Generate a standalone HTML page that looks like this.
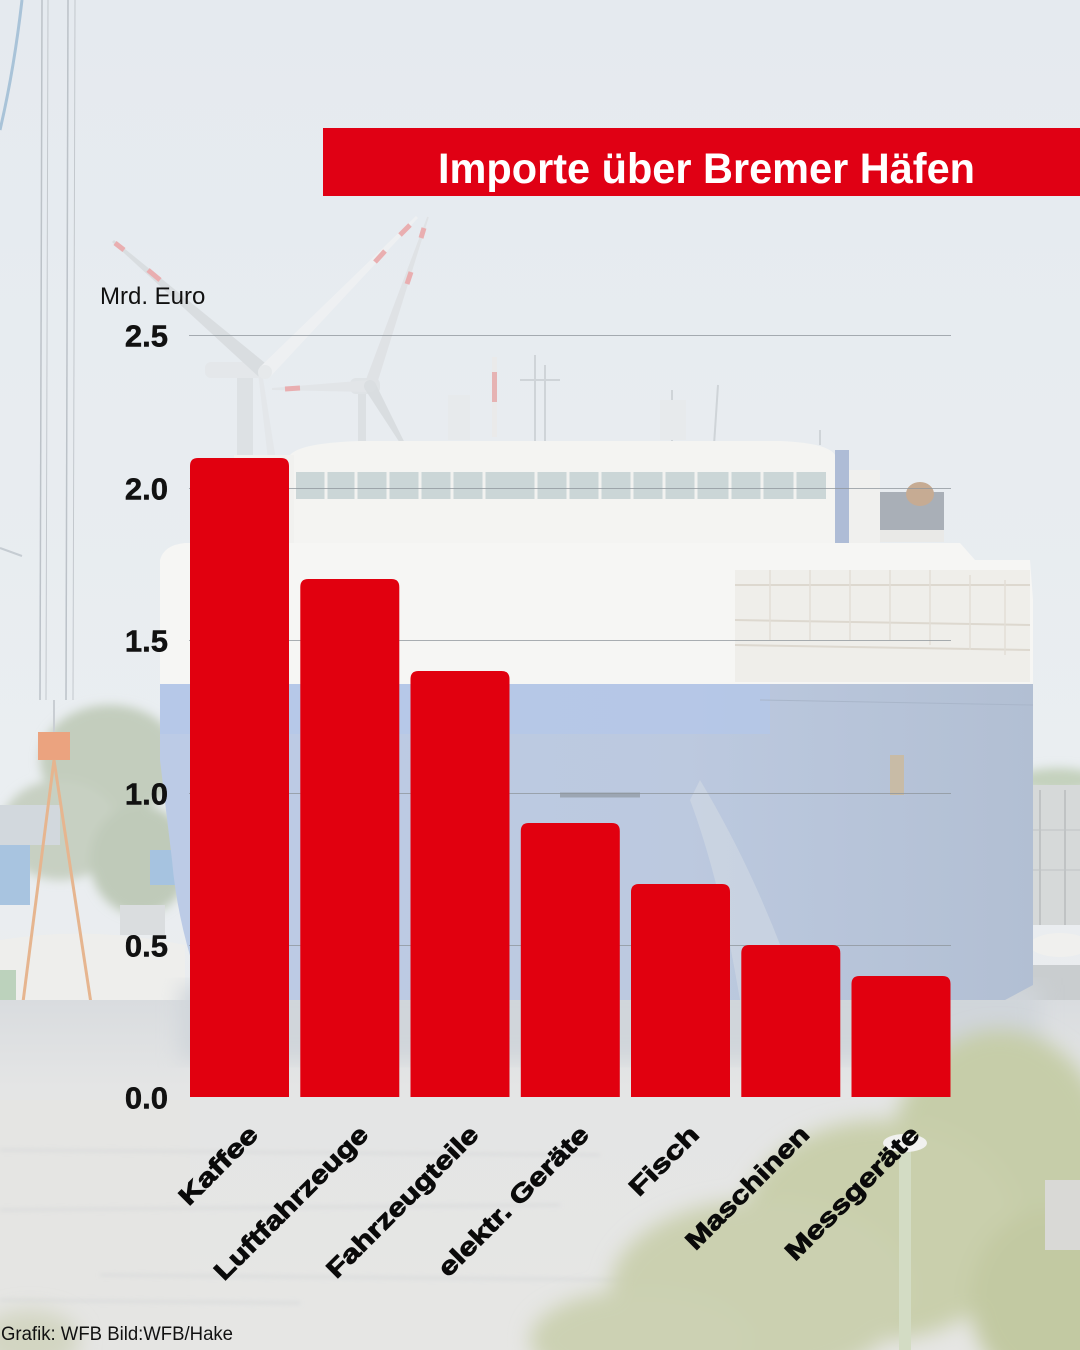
<!DOCTYPE html>
<html><head><meta charset="utf-8">
<style>
html,body{margin:0;padding:0;width:1080px;height:1350px;overflow:hidden;background:#e8ecf0;}
svg{display:block;}
</style></head>
<body>
<svg width="1080" height="1350" viewBox="0 0 1080 1350" xmlns="http://www.w3.org/2000/svg">
<defs>
  <linearGradient id="sky" x1="0" y1="0" x2="0" y2="1">
    <stop offset="0" stop-color="#e5eaef"/>
    <stop offset="0.6" stop-color="#eaeef1"/>
    <stop offset="1" stop-color="#e8e9ea"/>
  </linearGradient>
  <linearGradient id="hullH" x1="0" y1="0" x2="1" y2="0">
    <stop offset="0" stop-color="#bccbe6"/>
    <stop offset="0.6" stop-color="#bcc9df"/>
    <stop offset="1" stop-color="#b2bfd3"/>
  </linearGradient>
  <linearGradient id="water" x1="0" y1="0" x2="0" y2="1">
    <stop offset="0" stop-color="#d9dcdf"/>
    <stop offset="0.25" stop-color="#e4e5e5"/>
    <stop offset="1" stop-color="#e6e6e4"/>
  </linearGradient>
  <filter id="b2"><feGaussianBlur stdDeviation="2"/></filter>
  <filter id="b5"><feGaussianBlur stdDeviation="5"/></filter>
  <filter id="b10"><feGaussianBlur stdDeviation="10"/></filter>
</defs>

<!-- sky -->
<rect x="0" y="0" width="1080" height="1350" fill="url(#sky)"/>

<!-- left crane lattice & cables -->
<path d="M0,130 Q14,70 22,0" stroke="#a9c3d8" stroke-width="3" fill="none"/>
<line x1="42" y1="0" x2="40" y2="700" stroke="#bcc2c8" stroke-width="1.5"/>
<line x1="48" y1="0" x2="46" y2="700" stroke="#c3c8cd" stroke-width="1"/>
<line x1="68" y1="0" x2="66" y2="700" stroke="#bcc2c8" stroke-width="1.5"/>
<line x1="75" y1="0" x2="73" y2="700" stroke="#c3c8cd" stroke-width="1"/>
<line x1="0" y1="548" x2="22" y2="556" stroke="#c5ccd2" stroke-width="2"/>

<!-- left background: trees, buildings -->
<g filter="url(#b5)">
  <ellipse cx="110" cy="760" rx="70" ry="55" fill="#c3cdbd"/>
  <ellipse cx="60" cy="830" rx="60" ry="50" fill="#c7d0c2"/>
  <ellipse cx="140" cy="860" rx="50" ry="55" fill="#bfcab9"/>
  <ellipse cx="1058" cy="780" rx="40" ry="12" fill="#c4d1bd"/>
</g>
<rect x="0" y="805" width="60" height="40" fill="#d2d8dd"/>
<rect x="0" y="845" width="30" height="60" fill="#a8c4e0"/>
<rect x="150" y="850" width="35" height="35" fill="#a6c3e0"/>
<rect x="120" y="905" width="45" height="30" fill="#dadddf"/>
<path d="M0,940 Q90,925 185,945 L185,1005 L0,1005 Z" fill="#eeeeec"/>
<rect x="0" y="970" width="16" height="45" fill="#bcd2bc"/>
<!-- orange crane -->
<rect x="38" y="732" width="32" height="28" fill="#eba37f"/>
<line x1="54" y1="760" x2="22" y2="1010" stroke="#e6b58f" stroke-width="3"/>
<line x1="54" y1="760" x2="92" y2="1010" stroke="#e6b58f" stroke-width="3"/>
<line x1="54" y1="700" x2="54" y2="732" stroke="#c9ced3" stroke-width="2"/>
<!-- barge & quay -->
<rect x="0" y="1008" width="186" height="22" fill="#cdb3ac"/>
<polygon points="0,1040 140,1018 140,1080 0,1112" fill="#bfc4c7"/>
<polygon points="140,1018 186,1015 186,1060 140,1080" fill="#cdd1d3"/>

<!-- right background -->
<rect x="1033" y="785" width="47" height="140" fill="#d6d9d9"/>
<line x1="1040" y1="790" x2="1040" y2="925" stroke="#b8bcbe" stroke-width="1.5"/>
<line x1="1065" y1="790" x2="1065" y2="925" stroke="#b8bcbe" stroke-width="1.5"/>
<line x1="1033" y1="830" x2="1080" y2="830" stroke="#c0c4c5"/>
<line x1="1033" y1="870" x2="1080" y2="870" stroke="#c0c4c5"/>
<ellipse cx="1060" cy="945" rx="30" ry="12" fill="#f0f0ee"/>
<rect x="1005" y="965" width="75" height="35" fill="#c9cdcf"/>

<!-- water -->
<rect x="0" y="1000" width="1080" height="350" fill="url(#water)"/>
<rect x="0" y="1100" width="190" height="250" fill="#e5e5e3"/>
<g stroke="#d6d8d9" stroke-width="2" filter="url(#b2)">
  <line x1="0" y1="1150" x2="600" y2="1155"/>
  <line x1="0" y1="1210" x2="560" y2="1205"/>
  <line x1="100" y1="1275" x2="640" y2="1280"/>
  <line x1="0" y1="1300" x2="300" y2="1303"/>
</g>
<rect x="180" y="985" width="860" height="75" fill="#d0d5da" filter="url(#b10)"/>

<!-- wind turbines -->
<g>
  <rect x="237" y="372" width="16" height="90" fill="#dde1e4"/>
  <rect x="358" y="386" width="8" height="76" fill="#dce0e3"/>
  <rect x="205" y="362" width="58" height="16" rx="6" fill="#e4e7ea"/>
  <rect x="350" y="378" width="30" height="16" rx="6" fill="#dfe3e6"/>
  <polygon points="270,367 114,240 112,242 260,378" fill="#d9dde0"/>
  <polygon points="270,377 418,218 416,216 260,367" fill="#eef0f2"/>
  <polygon points="262,372 276,460 268,460 258,372" fill="#e4e7ea"/>
  <polygon points="375.7,388 428.8,217.3 427.2,216.7 364.3,384" fill="#dfe2e5"/>
  <polygon points="370,380 272,388 272,390 370,392" fill="#e2e5e8"/>
  <polygon points="375.2,383 412,457.5 410,458.5 364.8,389" fill="#d9dde0"/>
  <g stroke="#e9aeb0" stroke-width="5" stroke-linecap="butt">
    <line x1="115" y1="243" x2="124" y2="250"/>
    <line x1="148" y1="270" x2="160" y2="280"/>
    <line x1="400" y1="235" x2="410" y2="225"/>
    <line x1="375" y1="262" x2="385" y2="251"/>
    <line x1="424" y1="228" x2="421" y2="238"/>
    <line x1="411" y1="272" x2="407" y2="284"/>
    <line x1="285" y1="389" x2="300" y2="388"/>
  </g>
  <circle cx="265" cy="372" r="7" fill="#e6e9eb"/>
  <circle cx="370" cy="386" r="6" fill="#dadee1"/>
</g>

<!-- ship masts / antennas -->
<g stroke="#cfd4d8" stroke-width="2" fill="none">
  <line x1="535" y1="355" x2="535" y2="445"/>
  <line x1="520" y1="380" x2="560" y2="380"/>
  <line x1="545" y1="365" x2="545" y2="445"/>
  <line x1="672" y1="390" x2="672" y2="445"/>
  <line x1="718" y1="385" x2="714" y2="445"/>
  <line x1="820" y1="430" x2="820" y2="445"/>
</g>
<rect x="492" y="357" width="5" height="80" fill="#eaeaea"/>
<rect x="492" y="372" width="5" height="30" fill="#e6b3b3"/>
<rect x="448" y="395" width="22" height="45" fill="#e7eaec"/>
<rect x="660" y="400" width="26" height="40" fill="#e7eaec"/>

<!-- ship superstructure -->
<path d="M290,545 L290,455 Q300,443 360,441 L780,441 Q828,443 835,455 L835,545 Z" fill="#f4f4f2"/>
<rect x="296" y="472" width="530" height="27" fill="#cbd6d7"/>
<g stroke="#f2f2f0" stroke-width="3">
  <line x1="326" y1="472" x2="326" y2="499"/><line x1="356" y1="472" x2="356" y2="499"/>
  <line x1="388" y1="472" x2="388" y2="499"/><line x1="420" y1="472" x2="420" y2="499"/>
  <line x1="452" y1="472" x2="452" y2="499"/><line x1="484" y1="472" x2="484" y2="499"/>
  <line x1="536" y1="472" x2="536" y2="499"/><line x1="568" y1="472" x2="568" y2="499"/>
  <line x1="600" y1="472" x2="600" y2="499"/><line x1="632" y1="472" x2="632" y2="499"/>
  <line x1="664" y1="472" x2="664" y2="499"/><line x1="696" y1="472" x2="696" y2="499"/>
  <line x1="730" y1="472" x2="730" y2="499"/><line x1="762" y1="472" x2="762" y2="499"/>
  <line x1="795" y1="472" x2="795" y2="499"/>
</g>
<rect x="234" y="455" width="60" height="95" fill="#f1f1ef"/>
<rect x="835" y="450" width="14" height="95" fill="#aebcd6"/>
<rect x="849" y="470" width="31" height="75" fill="#f0f0ee"/>
<!-- funnel -->
<rect x="880" y="492" width="64" height="50" fill="#a9afb7"/>
<ellipse cx="920" cy="494" rx="14" ry="12" fill="#c6ab93"/>
<rect x="880" y="530" width="64" height="12" fill="#e9e9e7"/>

<!-- ship white upper hull -->
<path d="M160,685 L160,560 Q164,545 185,543 L960,543 L975,560 L1030,560 L1033,600 L1033,685 Z" fill="#f6f6f4"/>
<rect x="735" y="570" width="295" height="112" fill="#efeeea"/>
<g stroke="#ddd8cf" stroke-width="2">
  <line x1="735" y1="585" x2="1030" y2="585"/>
  <line x1="735" y1="620" x2="1030" y2="625"/>
  <line x1="735" y1="645" x2="1030" y2="650"/>
</g>
<g stroke="#e2ded6" stroke-width="1.5">
  <line x1="770" y1="570" x2="770" y2="640"/><line x1="810" y1="570" x2="810" y2="640"/>
  <line x1="850" y1="570" x2="850" y2="640"/><line x1="890" y1="570" x2="890" y2="640"/>
  <line x1="930" y1="570" x2="930" y2="645"/><line x1="970" y1="575" x2="970" y2="650"/>
  <line x1="1005" y1="580" x2="1005" y2="655"/>
</g>

<!-- blue hull -->
<path d="M160,684 L1033,684 L1033,985 L1005,1000 L205,1000 Q178,930 172,860 L160,760 Z" fill="url(#hullH)"/>
<rect x="160" y="684" width="610" height="50" fill="#b4c7e8" opacity="0.8"/>
<path d="M700,780 Q760,880 800,1000 L740,1000 Q720,880 690,800 Z" fill="#cfd7e3" opacity="0.7"/>
<rect x="890" y="755" width="14" height="40" fill="#c8bba6"/>
<line x1="760" y1="700" x2="1033" y2="705" stroke="#a9b6ca" stroke-width="1"/>
<line x1="560" y1="795" x2="640" y2="795" stroke="#9ca6b3" stroke-width="5"/>

<!-- bottom-right trees -->
<g filter="url(#b10)">
  <ellipse cx="1000" cy="1160" rx="110" ry="130" fill="#c6cda9"/>
  <ellipse cx="880" cy="1230" rx="140" ry="110" fill="#c9cfac"/>
  <ellipse cx="760" cy="1290" rx="150" ry="90" fill="#cbd0b0"/>
  <ellipse cx="640" cy="1340" rx="110" ry="50" fill="#ccd1b3"/>
  <ellipse cx="1050" cy="1300" rx="80" ry="90" fill="#c2c9a2"/>
  <ellipse cx="30" cy="1340" rx="50" ry="30" fill="#d3d6c2"/>
</g>
<rect x="1045" y="1180" width="35" height="70" fill="#d9d9d6"/>
<rect x="899" y="1150" width="12" height="200" fill="#d3dcc4"/>
<ellipse cx="905" cy="1143" rx="22" ry="9" fill="#f1f1ef"/>

<!-- gridlines -->
<g stroke="#8e959b" stroke-width="1" opacity="0.75">
  <line x1="189" y1="335.5" x2="951" y2="335.5"/>
  <line x1="189" y1="488.5" x2="951" y2="488.5"/>
  <line x1="189" y1="640.5" x2="951" y2="640.5"/>
  <line x1="189" y1="793.5" x2="951" y2="793.5"/>
  <line x1="189" y1="945.5" x2="951" y2="945.5"/>
</g>

<!-- bars -->
<g fill="#e1000f">
  <path d="M190,1097 V466 Q190,458 198,458 H281 Q289,458 289,466 V1097 Z"/>
  <path d="M300.3,1097 V587 Q300.3,579 308.3,579 H391.3 Q399.3,579 399.3,587 V1097 Z"/>
  <path d="M410.5,1097 V679 Q410.5,671 418.5,671 H501.5 Q509.5,671 509.5,679 V1097 Z"/>
  <path d="M520.8,1097 V831 Q520.8,823 528.8,823 H611.8 Q619.8,823 619.8,831 V1097 Z"/>
  <path d="M631,1097 V892 Q631,884 639,884 H722 Q730,884 730,892 V1097 Z"/>
  <path d="M741.3,1097 V953 Q741.3,945 749.3,945 H832.3 Q840.3,945 840.3,953 V1097 Z"/>
  <path d="M851.5,1097 V984 Q851.5,976 859.5,976 H942.5 Q950.5,976 950.5,984 V1097 Z"/>
</g>

<!-- title -->
<rect x="323" y="128" width="757" height="68" fill="#e00014"/>
<text x="438" y="183" font-family="Liberation Sans, sans-serif" font-weight="bold" font-size="43" fill="#ffffff" textLength="537" lengthAdjust="spacingAndGlyphs">Importe über Bremer Häfen</text>

<!-- axis unit -->
<text x="100" y="304" font-family="Liberation Sans, sans-serif" font-size="24" fill="#111">Mrd. Euro</text>

<!-- tick labels -->
<g font-family="Liberation Sans, sans-serif" font-weight="bold" font-size="31" fill="#111" stroke="#111" stroke-width="0.5" text-anchor="end">
  <text x="168" y="346.5">2.5</text>
  <text x="168" y="499.5">2.0</text>
  <text x="168" y="651.5">1.5</text>
  <text x="168" y="804.5">1.0</text>
  <text x="168" y="956.5">0.5</text>
  <text x="168" y="1108.5">0.0</text>
</g>

<!-- category labels -->
<g font-family="Liberation Sans, sans-serif" font-weight="bold" font-size="25" fill="#0a0a0a" stroke="#0a0a0a" stroke-width="0.9" text-anchor="end">
  <text transform="translate(259.5,1136) rotate(-45)" textLength="100" lengthAdjust="spacingAndGlyphs">Kaffee</text>
  <text transform="translate(369.8,1136) rotate(-45)" textLength="206" lengthAdjust="spacingAndGlyphs">Luftfahrzeuge</text>
  <text transform="translate(480,1136) rotate(-45)" textLength="203" lengthAdjust="spacingAndGlyphs">Fahrzeugteile</text>
  <text transform="translate(590.3,1136) rotate(-45)" textLength="201" lengthAdjust="spacingAndGlyphs">elektr. Geräte</text>
  <text transform="translate(700.5,1136) rotate(-45)" textLength="87" lengthAdjust="spacingAndGlyphs">Fisch</text>
  <text transform="translate(810.8,1136) rotate(-45)" textLength="163" lengthAdjust="spacingAndGlyphs">Maschinen</text>
  <text transform="translate(921,1136) rotate(-45)" textLength="178" lengthAdjust="spacingAndGlyphs">Messgeräte</text>
</g>

<!-- footer -->
<text x="1" y="1340" font-family="Liberation Sans, sans-serif" font-size="19" fill="#111" textLength="232" lengthAdjust="spacingAndGlyphs">Grafik: WFB Bild:WFB/Hake</text>
</svg>
</body></html>
